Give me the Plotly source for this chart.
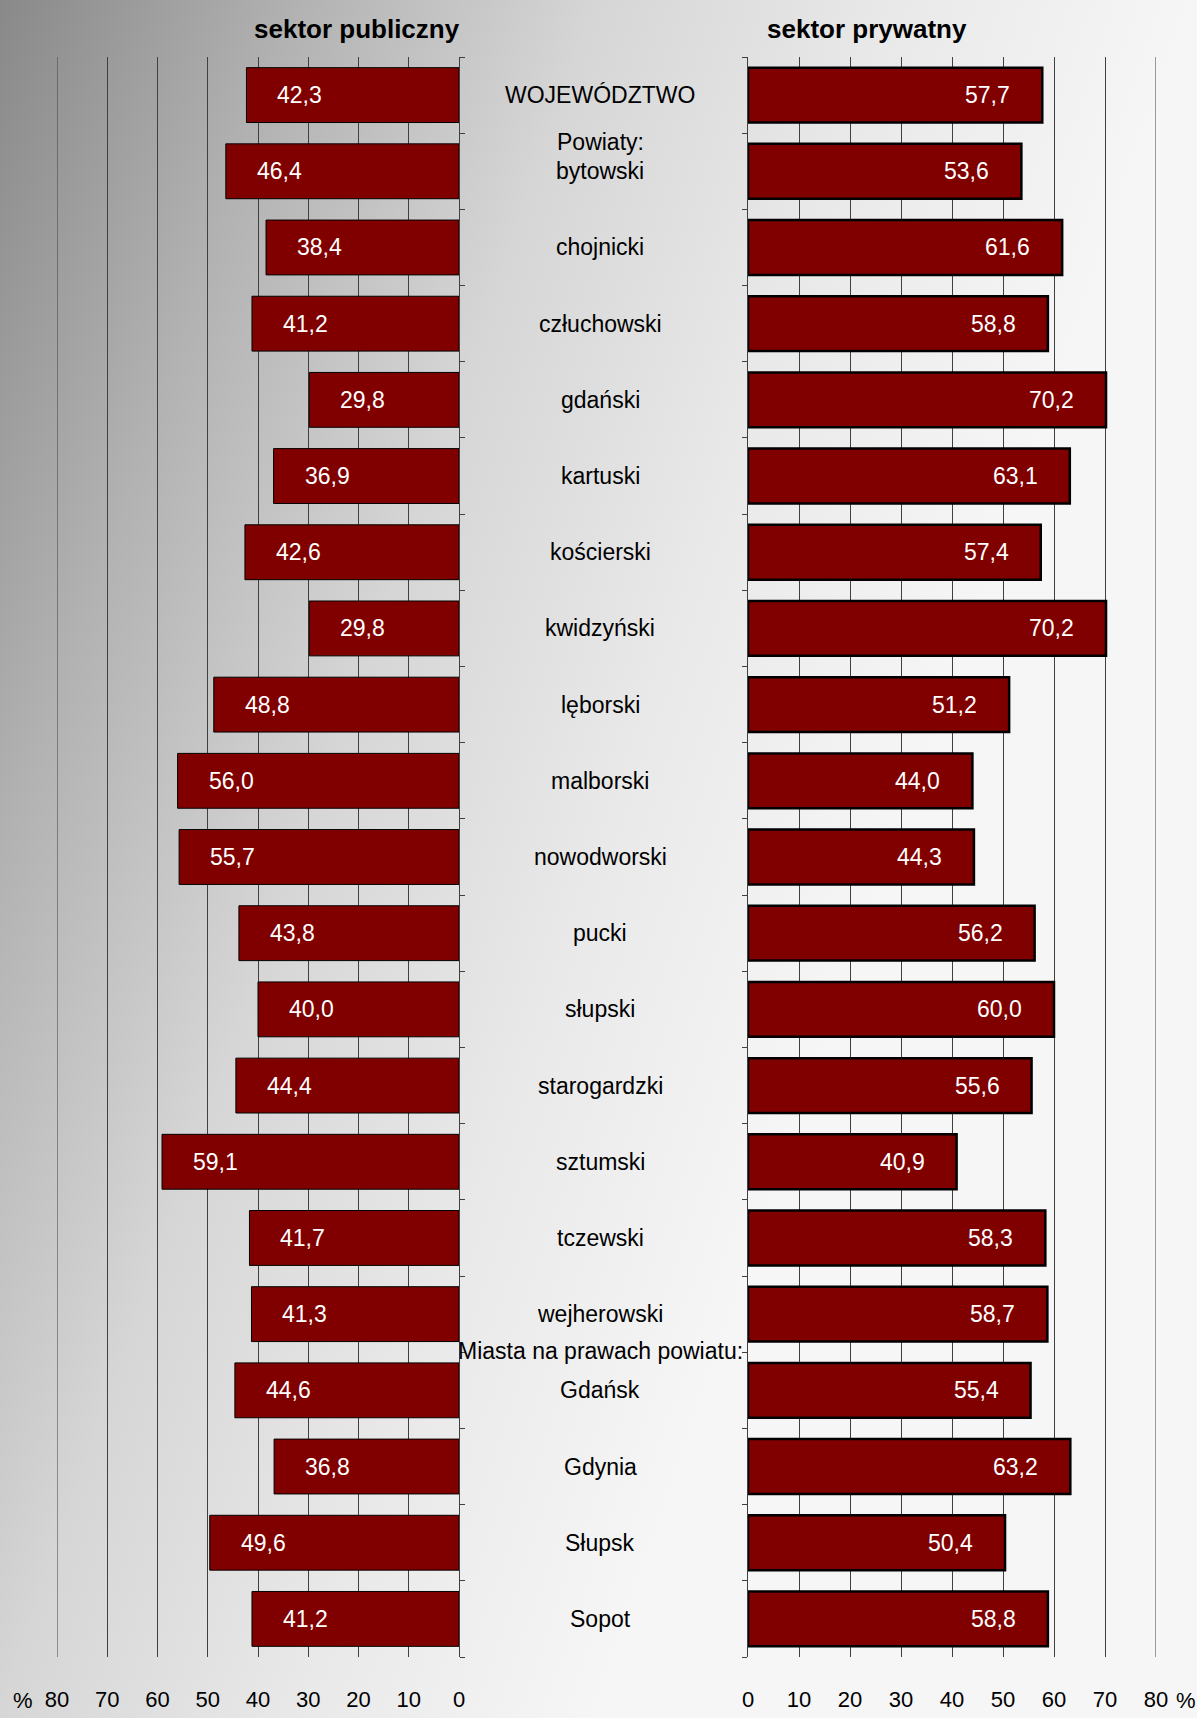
import plotly.graph_objects as go
import urllib.parse

categories = ["WOJEWÓDZTWO", "bytowski", "chojnicki", "człuchowski", "gdański", "kartuski",
              "kościerski", "kwidzyński", "lęborski", "malborski", "nowodworski", "pucki",
              "słupski", "starogardzki", "sztumski", "tczewski", "wejherowski",
              "Gdańsk", "Gdynia", "Słupsk", "Sopot"]
public_sector = [42.3, 46.4, 38.4, 41.2, 29.8, 36.9, 42.6, 29.8, 48.8, 56.0, 55.7,
                 43.8, 40.0, 44.4, 59.1, 41.7, 41.3, 44.6, 36.8, 49.6, 41.2]
private_sector = [57.7, 53.6, 61.6, 58.8, 70.2, 63.1, 57.4, 70.2, 51.2, 44.0, 44.3,
                  56.2, 60.0, 55.6, 40.9, 58.3, 58.7, 55.4, 63.2, 50.4, 58.8]
group_headers = ["Powiaty:", "Miasta na prawach powiatu:"]
tick_values = [0, 10, 20, 30, 40, 50, 60, 70, 80]
tick_labels = ["0", "10", "20", "30", "40", "50", "60", "70", "80"]
title_left = "sektor publiczny"
title_right = "sektor prywatny"

W, H = 1197, 1718
FONT = "Arial, Liberation Sans, sans-serif"
BAR = "#800000"
GRID = "#404040"

n = len(categories)
ypos = list(range(n))


def fmt(v):
    return f"{v:.1f}".replace(".", ",")


fig = go.Figure()
fig.add_trace(go.Bar(x=public_sector, y=ypos, orientation="h", xaxis="x", yaxis="y",
                     marker=dict(color=BAR, line=dict(color="black", width=1)),
                     hoverinfo="skip", showlegend=False))
fig.add_trace(go.Bar(x=private_sector, y=ypos, orientation="h", xaxis="x2", yaxis="y2",
                     marker=dict(color=BAR, line=dict(color="black", width=2.5)),
                     hoverinfo="skip", showlegend=False))

ydom = [1 - 1657 / H, 1 - 57 / H]
xaxis_common = dict(tickvals=tick_values, ticktext=tick_labels, showgrid=True, gridcolor=GRID,
                    gridwidth=1, zeroline=False, showline=False, ticks="",
                    tickfont=dict(family=FONT, size=22, color="black"),
                    ticklabelstandoff=27, automargin=False, fixedrange=True)
yaxis_common = dict(domain=ydom, range=[n - 0.5, -0.5], showline=True, linecolor=GRID,
                    linewidth=1, ticks="outside", ticklen=5, tickcolor=GRID,
                    tickvals=[i - 0.5 for i in range(n + 1)], showticklabels=False,
                    showgrid=False, zeroline=False, automargin=False, fixedrange=True)

annotations = []
for i, (c, a, b) in enumerate(zip(categories, public_sector, private_sector)):
    annotations.append(dict(x=600 / W, xref="paper", y=i, yref="y", text=c, showarrow=False,
                            xanchor="center", yanchor="middle",
                            font=dict(family=FONT, size=23, color="black")))
    annotations.append(dict(x=a, xref="x", y=i, yref="y", text=fmt(a), showarrow=False,
                            xanchor="left", yanchor="middle", xshift=29,
                            font=dict(family=FONT, size=23, color="white")))
    annotations.append(dict(x=b, xref="x2", y=i, yref="y2", text=fmt(b), showarrow=False,
                            xanchor="right", yanchor="middle", xshift=-30,
                            font=dict(family=FONT, size=23, color="white")))

header_pos = [0.62, 16.49]
for t, p in zip(group_headers, header_pos):
    annotations.append(dict(x=600 / W, xref="paper", y=p, yref="y", text=t, showarrow=False,
                            xanchor="center", yanchor="middle",
                            font=dict(family=FONT, size=23, color="black")))

annotations.append(dict(x=357 / W, y=1 - 29 / H, xref="paper", yref="paper", text=f"<b>{title_left}</b>",
                        showarrow=False, xanchor="center", yanchor="middle",
                        font=dict(family=FONT, size=26, color="black")))
annotations.append(dict(x=867 / W, y=1 - 29 / H, xref="paper", yref="paper", text=f"<b>{title_right}</b>",
                        showarrow=False, xanchor="center", yanchor="middle",
                        font=dict(family=FONT, size=26, color="black")))
for px in (23, 1186):
    annotations.append(dict(x=px / W, y=1 - 1700 / H, xref="paper", yref="paper", text="%",
                            showarrow=False, xanchor="center", yanchor="middle",
                            font=dict(family=FONT, size=22, color="black")))

# edge gridlines at 80 (plotly drops grid lines lying on the range edge)
shapes = [
    dict(type="line", xref="x", yref="y domain", x0=tick_values[-1], x1=tick_values[-1], y0=0, y1=1,
         line=dict(color=GRID, width=1), layer="below"),
    dict(type="line", xref="x2", yref="y2 domain", x0=tick_values[-1], x1=tick_values[-1], y0=0, y1=1,
         line=dict(color=GRID, width=1), layer="below"),
]

svg = ("<svg xmlns='http://www.w3.org/2000/svg' width='1197' height='1718' viewBox='0 0 1197 1718' "
       "preserveAspectRatio='none'><defs><linearGradient id='g' gradientUnits='userSpaceOnUse' "
       "x1='0' y1='0' x2='1068' y2='372'>"
       "<stop offset='0' stop-color='#898989'/>"
       "<stop offset='0.25' stop-color='#b2b2b2'/>"
       "<stop offset='0.5' stop-color='#d6d6d6'/>"
       "<stop offset='0.75' stop-color='#e9e9e9'/>"
       "<stop offset='1' stop-color='#f6f6f6'/>"
       "</linearGradient></defs><rect width='1197' height='1718' fill='url(#g)'/></svg>")
src = "data:image/svg+xml;charset=utf-8," + urllib.parse.quote(svg)

fig.update_layout(
    width=W, height=H,
    margin=dict(l=0, r=0, t=0, b=0),
    paper_bgcolor="#f6f6f6",
    plot_bgcolor="rgba(0,0,0,0)",
    bargap=0.28,
    xaxis=dict(domain=[57 / W, 459 / W], range=[80, 0], anchor="y", **xaxis_common),
    xaxis2=dict(domain=[748 / W, 1156 / W], range=[0, 80], anchor="y2", **xaxis_common),
    yaxis=dict(anchor="x", side="right", **yaxis_common),
    yaxis2=dict(anchor="x2", side="left", **yaxis_common),
    annotations=annotations,
    shapes=shapes,
    images=[dict(source=src, xref="paper", yref="paper", x=0, y=1, sizex=1, sizey=1,
                 sizing="stretch", layer="below", xanchor="left", yanchor="top")],
    showlegend=False,
)

fig.write_html("out.html", config={"displayModeBar": False},
               post_script="document.body.style.margin='0';document.body.style.overflow='hidden';")
